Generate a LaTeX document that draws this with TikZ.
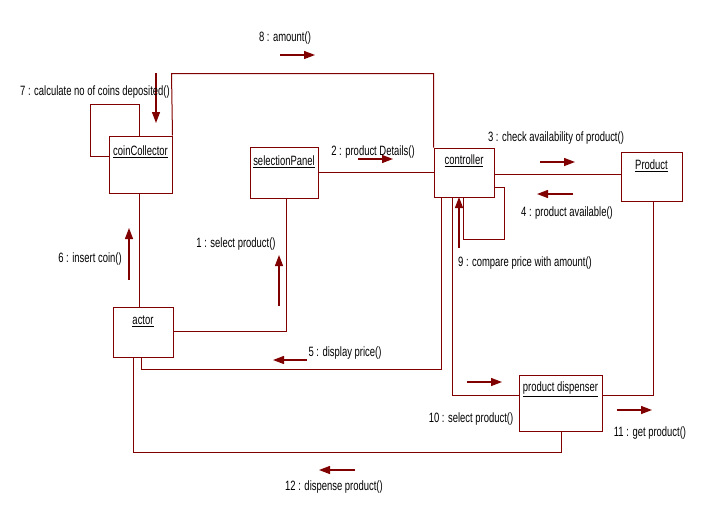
\documentclass[tikz,border=0pt]{standalone}
\usepackage{fontspec}
\setmainfont{Liberation Sans}[FakeStretch=0.7]
\usetikzlibrary{arrows.meta}
\definecolor{maroon}{RGB}{128,0,0}
\begin{document}
\begin{tikzpicture}[x=1pt,y=-1pt,
  obj/.style={draw=maroon, line width=1pt, anchor=north west, inner sep=0pt},
  objlabel/.style={font=\fontsize{13.5}{15}\selectfont, inner sep=0pt},
  link/.style={draw=maroon, line width=1pt},
  msg/.style={draw=maroon, line width=1.3pt, -{Triangle[length=11pt,width=8pt]}},
  msglabel/.style={font=\fontsize{13.5}{15}\selectfont, inner sep=0pt}]
\useasboundingbox (0,0) rectangle (708,522);
% objects
\node[obj, minimum width=63pt, minimum height=57pt] (cc) at (108.5,135.5) {};
\node[obj, minimum width=68pt, minimum height=51pt] (sp) at (249.5,146.5) {};
\node[obj, minimum width=60pt, minimum height=49pt] (ctl) at (433.5,147.5) {};
\node[obj, minimum width=61pt, minimum height=49pt] (prod) at (620.5,151.5) {};
\node[obj, minimum width=60pt, minimum height=50pt] (act) at (112.5,306.5) {};
\node[obj, minimum width=83pt, minimum height=56pt] (pd) at (518.5,374.5) {};
\node[objlabel] (ccl) at ([yshift=-16pt]cc.north) {\underline{coinCollector}};
\node[objlabel] (spl) at ([yshift=-15pt]sp.north) {\underline{selectionPanel}};
\node[objlabel] (ctll) at ([yshift=-13pt]ctl.north) {\underline{controller}};
\node[objlabel] (prodl) at ([yshift=-14pt]prod.north) {\underline{Product}};
\node[objlabel] (actl) at ([yshift=-15pt]act.north) {\underline{actor}};
\node[objlabel] (pdl) at ([yshift=-15pt]pd.north) {\underline{product dispenser}};
% links
\draw[link] ([yshift=-21pt]cc.north west) -| (90.5,104.5) -| ([xshift=31pt]cc.north west);
\draw[link] (cc.north east) -- (171.5,73.5) -| (ctl.north west);
\draw[link] ([yshift=-26pt]sp.north east) -- ([yshift=-26pt]sp.north east -| ctl.west);
\draw[link] ([yshift=-27pt]ctl.north east) -- ([yshift=-27pt]ctl.north east -| prod.west);
\draw[link] ([yshift=-40pt]ctl.north east) -| (504.5,239.5) -| ([xshift=30pt]ctl.south west);
\draw[link] ([xshift=29pt]act.south west) |- (441.5,369.5) -- ([xshift=8pt]ctl.south west);
\draw[link] ([xshift=19pt]ctl.south west) |- ([yshift=-21pt]pd.north west);
\draw[link] ([yshift=-21pt]pd.north east) -| ([xshift=33pt]prod.south west);
\coordinate (c12) at (133.5,452.5);
\draw[link] ([xshift=43pt]pd.south west) |- (c12) -- ([xshift=21pt]act.south west);
\draw[link] ([yshift=-25pt]act.north east) -| ([xshift=37pt]sp.south west);
\draw[link] ([xshift=27pt]act.north west) -- ([xshift=31pt]cc.south west);
% message arrows
\coordinate (m8a) at (280,55); \coordinate (m8b) at (315,55);
\coordinate (m7a) at (156,73); \coordinate (m7b) at (156,123);
\coordinate (m2a) at (358,159); \coordinate (m2b) at (393,159);
\coordinate (m3a) at (540,162); \coordinate (m3b) at (575,162);
\coordinate (m4a) at (573,194); \coordinate (m4b) at (537,194);
\coordinate (m9a) at (459,248); \coordinate (m9b) at (459,197);
\coordinate (m5a) at (307,360); \coordinate (m5b) at (273,360);
\coordinate (m1a) at (279,306); \coordinate (m1b) at (279,255);
\coordinate (m6a) at (129,280); \coordinate (m6b) at (129,228);
\coordinate (m10a) at (467,382); \coordinate (m10b) at (502,382);
\coordinate (m11a) at (617,410); \coordinate (m11b) at (652,410);
\coordinate (m12a) at (355,470); \coordinate (m12b) at (319,470);
\foreach \m in {8,7,2,3,4,9,5,1,6,10,11,12}{\draw[msg] (m\m a) -- (m\m b);}
% message labels
\node[msglabel] (l8) at (285,38) {8 : amount()};
\node[msglabel] (l7) at (95,92) {7 : calculate no of coins deposited()};
\node[msglabel] (l2) at (373,152) {2 : product Details()};
\node[msglabel] (l3) at (556,138) {3 : check availability of product()};
\node[msglabel] (l4) at (567,213) {4 : product available()};
\node[msglabel] (l9) at (525,263) {9 : compare price with amount()};
\node[msglabel] (l1) at (236,244) {1 : select product()};
\node[msglabel] (l6) at (90,259) {6 : insert coin()};
\node[msglabel] (l5) at (345,353) {5 : display price()};
\node[msglabel] (l10) at (471,419) {10 : select product()};
\node[msglabel] (l11) at (650,433) {11 : get product()};
\node[msglabel] (l12) at (334,487) {12 : dispense product()};
\end{tikzpicture}
\end{document}
